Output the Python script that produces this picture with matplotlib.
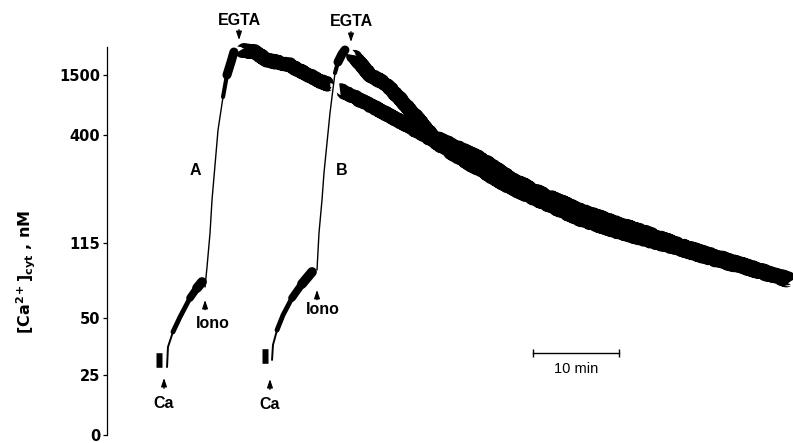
import matplotlib
matplotlib.use("Agg")
import matplotlib.pyplot as plt
import numpy as np
from matplotlib.ticker import NullLocator

plt.rcParams['font.family'] = ['Liberation Sans', 'DejaVu Sans']
plt.rcParams['mathtext.fontset'] = 'dejavusans'

# calibration of the recorder scale (nM -> trace height)
cal_nm = [0, 25, 50, 115, 400, 1500, 3000, 6000]
cal_pos = [0, 60, 117, 192, 300, 360, 400, 430]

# --- trace A (time in min, [Ca2+]cyt in nM) ---
a_rest_t = [5.70, 6.45]
a_rest = [31.6, 31.6]
a_ca_t = [6.98, 7.09, 7.67, 8.49, 9.65, 10.47, 11.05]
a_ca = [28.5, 37.3, 43.9, 50.9, 67.3, 76.0, 81.2]
a_iono_t = [11.40, 11.63, 11.98, 12.21, 12.91, 13.49, 13.95, 14.42, 14.76]
a_iono = [76.9, 94.2, 141.4, 228.5, 491.7, 1097, 1500, 1987, 2362]
a_egta_t = [15.58, 17.21, 18.60, 20.12, 21.28, 22.44, 23.95, 25.0, 25.93,
            np.nan, 27.09, 30.58, 34.42, 37.91, 39.53, 43.37, 47.21, 51.16,
            55.0, 58.84, 62.79, 66.63, 70.47, 74.42, 78.26, 79.42]
a_egta = [2437, 2362, 2062, 1950, 1875, 1647, 1463, 1372, 1317,
          np.nan, 1225, 950, 620, 387, 360, 308, 258, 218,
          178, 149, 123, 110, 101, 93.3, 84.7, 82.1]

# --- trace B ---
b_rest_t = [18.05, 18.75]
b_rest = [33.3, 33.3]
b_ca_t = [19.19, 19.30, 19.77, 20.47, 21.51, 22.67, 23.84]
b_ca = [31.6, 38.2, 44.7, 52.6, 67.3, 79.5, 89.9]
b_iono_t = [24.42, 24.65, 25.0, 25.23, 25.93, 26.51, 26.86, 27.33, 27.67]
b_iono = [91.6, 141.4, 228.5, 299.7, 803, 1575, 1987, 2287, 2437]
b_egta_t = [28.60, 30.58, 32.56, 35.58, 37.91, 39.53, 43.37, 47.21, 51.16,
            55.0, 58.84, 62.79, 66.63, 70.47, 74.42, 78.26, 79.42]
b_egta = [2250, 1500, 1317, 803, 395, 379, 339, 281, 239,
          202, 170, 141, 113, 104, 95.1, 86.4, 83.8]

# additions: label, time, level at arrow tip
ca_marks = [("Ca", 6.63, 23.75), ("Ca", 18.95, 23.3)]
iono_marks = [("Iono", 11.40, 65.6), ("Iono", 24.42, 74.3)]
egta_marks = [("EGTA", 15.35, 2812), ("EGTA", 28.37, 2737)]

yticks = [0, 25, 50, 115, 400, 1500]


def fwd(v):
    return np.interp(v, cal_nm, cal_pos)


def inv(p):
    return np.interp(p, cal_pos, cal_nm)


fig = plt.figure(figsize=(7.93, 4.43), dpi=100)
ax = fig.add_axes([107 / 793, 8 / 443, 686 / 793, 425 / 443])
ax.set_yscale('function', functions=(fwd, inv))
ax.set_xlim(0, 686 / 8.6)
ax.set_ylim(0, inv(425))


def pen(t, c, lw, start=0):
    # pen trace gets thicker towards the end of a fast rise
    ln, = ax.plot(t[start:], c[start:], color='black', lw=lw,
                  solid_capstyle='round', solid_joinstyle='round')
    return ln


# resting level before Ca
for t, c in [(a_rest_t, a_rest), (b_rest_t, b_rest)]:
    ax.plot(t, c, color='black', lw=10.5, solid_capstyle='butt')

# rise after Ca
for t, c in [(a_ca_t, a_ca), (b_ca_t, b_ca)]:
    pen(t, c, 1.4)
    pen(t, c, 3.5, start=2)
    pen(t, c, 5.5, start=4)
    pen(t, c, 7.0, start=5)

# ionomycin jump
for t, c in [(a_iono_t, a_iono), (b_iono_t, b_iono)]:
    pen(t, c, 1.0)
    pen(t, c, 3.0, start=5)
    pen(t, c, 6.5, start=6)

# decay after EGTA
for t, c in [(a_egta_t, a_egta), (b_egta_t, b_egta)]:
    ln, = ax.plot(t, c, color='black', lw=9.5, solid_capstyle='butt',
                  solid_joinstyle='round')
    ln.set_sketch_params(scale=1.2, length=1.5, randomness=3)

arrow = dict(arrowstyle='-|>,head_length=0.5,head_width=0.17', color='black',
             lw=0.9, shrinkA=0, shrinkB=0)
txt = dict(ha='center', va='center', fontsize=11.5, fontweight='bold',
           textcoords='offset points')

for lab, t, c in ca_marks:
    ax.annotate('', xy=(t, c), xytext=(0, -7.5), textcoords='offset points',
                arrowprops=arrow)
    ax.annotate(lab, xy=(t, c), xytext=(0, -18), **txt)
for (lab, t, c), (dx, dy) in zip(iono_marks, [(5.8, -16.6), (4.3, -14.4)]):
    ax.annotate('', xy=(t, c), xytext=(0, -7), textcoords='offset points',
                arrowprops=arrow)
    ax.annotate(lab, xy=(t, c), xytext=(dx, dy), **txt)
for (lab, t, c), dy in zip(egta_marks, [13.7, 15.0]):
    ax.annotate('', xy=(t, c), xytext=(0, 7.5), textcoords='offset points',
                arrowprops=arrow)
    ax.annotate(lab, xy=(t, c), xytext=(0, dy), **txt)

ax.text(10.23, 307.6, 'A', ha='center', va='center', fontsize=11.5,
        fontweight='bold')
ax.text(27.33, 307.6, 'B', ha='center', va='center', fontsize=11.5,
        fontweight='bold')

# 10 min scale bar
ax.plot([49.5, 59.5], [34.6, 34.6], color='black', lw=1.0, marker='|',
        markersize=6, markeredgewidth=1.0)
ax.text(54.5, 27.5, '10 min', ha='center', va='center', fontsize=10.5)

ax.set_yticks(yticks)
ax.set_yticklabels([str(v) for v in yticks], fontsize=10.5,
                   family='DejaVu Sans', fontweight='bold')
ax.yaxis.set_minor_locator(NullLocator())
ax.set_xticks([])
ax.tick_params(axis='y', direction='out', length=3, width=0.9, pad=2)
for s in ['top', 'right', 'bottom']:
    ax.spines[s].set_visible(False)
ax.spines['left'].set_bounds(0, inv(388))
ax.spines['left'].set_linewidth(0.9)

ax.set_ylabel(r'[Ca$^{\mathbf{2+}}$]$_{\mathbf{cyt}}$ , nM', fontsize=11.5,
              family='DejaVu Sans', fontweight='bold')
ax.yaxis.set_label_coords(-0.100, 0.384)

fig.savefig('out.png', dpi=100)
